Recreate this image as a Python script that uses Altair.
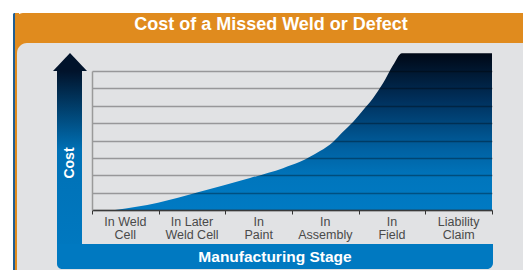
import altair as alt
import pandas as pd

# ---- data ----
title_text = "Cost of a Missed Weld or Defect"
x_title = "Manufacturing Stage"
y_title = "Cost"
stages = ["In Weld\nCell", "In Later\nWeld Cell", "In\nPaint", "In\nAssembly", "In\nField", "Liability\nClaim"]
curve_x = [0.345, 0.99, 1.59, 2.37, 2.865, 3.12, 3.42, 3.615, 3.765, 3.915, 4.065, 4.215, 4.365, 4.515, 4.65, 6.0]
curve_y = [0.0, 0.42, 1.02, 1.84, 2.41, 2.77, 3.39, 3.92, 4.50, 5.07, 5.74, 6.43, 7.29, 8.33, 9.02, 9.02]
grid_values = list(range(0, 9))
tick_values = list(range(0, 7))

FONT = "Liberation Sans"
ORANGE = "#e08b1e"
GREY = "#e1e2e4"
BLUE = "#0079c1"
NAVY = "#01132b"

curve_df = pd.DataFrame({"x": curve_x, "y": curve_y})
label_df = pd.DataFrame({"label": stages, "pos": [i + 0.5 for i in range(len(stages))]})

xscale = alt.Scale(domain=[0, 6], nice=False, zero=False)
yscale = alt.Scale(domain=[0, 8], nice=False)
xaxis = alt.Axis(values=tick_values, labels=False, ticks=True, tickSize=4, tickColor="#333333",
                 tickWidth=1, domainColor="#3a3a3a", domainWidth=1.3, grid=False, title=None, zindex=1)
yaxis = alt.Axis(values=grid_values, labels=False, ticks=False, grid=True, gridColor="#000000",
                 gridOpacity=0.33, gridWidth=1.5, domainColor="#9a9a9a", domainWidth=1.5,
                 title=None, zindex=1)

one = alt.Data(values=[{}])


def rect(x, x2, y, y2, color, **kw):
    return alt.Chart(one).mark_rect(color=color, **kw).encode(
        x=alt.value(x), x2=alt.value(x2), y=alt.value(y), y2=alt.value(y2))


def label(text, x, y, size, **kw):
    return alt.Chart(one).mark_text(text=text, font=FONT, fontSize=size, fontWeight="bold",
                                    color="white", align="center", baseline="middle", **kw).encode(
        x=alt.value(x), y=alt.value(y))


edge = rect(-79, -76, -58, 199, "#1f5d92", cornerRadiusTopLeft=3)
header = rect(-77, 440, -58, -20, ORANGE, cornerRadiusTopLeft=8)
side = rect(-77, -73, -58, 199, ORANGE)
panel = rect(-75, 440, -28, 200, GREY, cornerRadiusTopLeft=10)

shaft_grad = alt.Gradient(gradient="linear", x1=0, x2=0, y1=0, y2=1, stops=[
    alt.GradientStop(color=NAVY, offset=0),
    alt.GradientStop(color="#0071b6", offset=0.42),
    alt.GradientStop(color=BLUE, offset=1),
])
shaft = rect(-35, -10, 0, 190, shaft_grad)
bar = rect(-35, 401, 173, 198, BLUE, cornerRadiusBottomRight=6, cornerRadiusBottomLeft=5)
inner = rect(-10, 405, 141, 173, GREY, cornerRadiusBottomLeft=7)
arrow = alt.Chart(one).mark_point(shape="M-1,0.53L0,-0.53L1,0.53Z", filled=True, size=1156,
                                  color=NAVY, opacity=1, strokeWidth=0).encode(
    x=alt.value(-22), y=alt.value(-9))

area_grad = alt.Gradient(gradient="linear", x1=0, x2=0, y1=0, y2=1, stops=[
    alt.GradientStop(color="#000816", offset=0),
    alt.GradientStop(color="#00305c", offset=0.3),
    alt.GradientStop(color="#0062a3", offset=0.62),
    alt.GradientStop(color="#0076bd", offset=0.8),
    alt.GradientStop(color="#007ac3", offset=1),
])
area = alt.Chart(curve_df).mark_area(color=area_grad, interpolate="monotone").encode(
    x=alt.X("x:Q", scale=xscale, axis=xaxis),
    y=alt.Y("y:Q", scale=yscale, axis=yaxis),
)

labels = alt.Chart(label_df).mark_text(font=FONT, fontSize=12.5, color="#4a4a4a", lineBreak="\n",
                                       baseline="alphabetic", align="center", lineHeight=13).encode(
    x=alt.X("pos:Q", scale=xscale, axis=xaxis),
    y=alt.value(155),
    text="label:N",
)

title = label(title_text, 179, -46, 18)
ytitle = label(y_title, -22, 92, 14, angle=270)
xtitle = label(x_title, 183, 186, 15.5)

chart = alt.layer(edge, header, side, panel, shaft, bar, inner, arrow, area, labels,
                  title, ytitle, xtitle).properties(
    width=400, height=139,
    autosize=alt.AutoSizeParams(type="none"),
    padding={"left": 84, "top": 63, "right": 31, "bottom": 60},
    background="white",
).configure_view(strokeWidth=0)

chart.save("out.html", embed_options={"renderer": "svg", "actions": False})
